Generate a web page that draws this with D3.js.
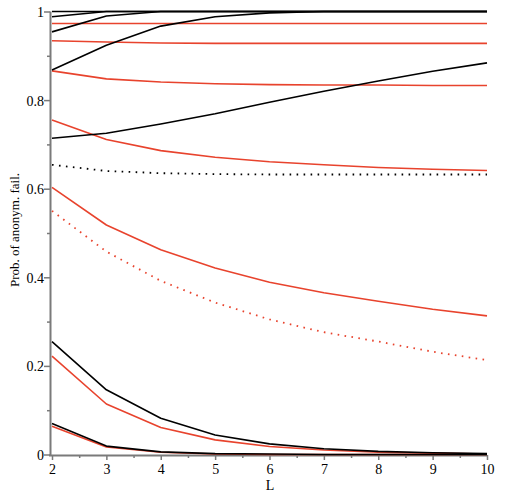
<!DOCTYPE html>
<html>
<head>
<meta charset="utf-8">
<script src="https://cdn.jsdelivr.net/npm/d3@7"></script>
<style>
  body { margin: 0; background: #fff; }
  svg { display: block; }
  text { font-family: "Liberation Serif", "DejaVu Serif", serif; fill: #000; }
</style>
</head>
<body>
<svg id="chart" width="505" height="497"></svg>
<script>
// ---- data ----
const Lvalues = [2, 3, 4, 5, 6, 7, 8, 9, 10];

const black1 = [1.000, 1.000, 1.000, 1.000, 1.000, 1.000, 1.000, 1.000, 1.000];
const black2 = [0.988, 1.000, 1.000, 1.000, 1.000, 1.000, 1.000, 1.000, 1.000];
const black3 = [0.954, 0.990, 1.000, 1.000, 1.000, 1.000, 1.000, 1.000, 1.000];
const black4 = [0.868, 0.924, 0.967, 0.988, 0.997, 1.000, 1.000, 1.000, 1.000];
const black5 = [0.714, 0.725, 0.746, 0.769, 0.795, 0.820, 0.843, 0.865, 0.884];
const black6 = [0.255, 0.146, 0.082, 0.044, 0.024, 0.013, 0.007, 0.004, 0.002];
const black7 = [0.070, 0.019, 0.006, 0.002, 0.001, 0.000, 0.000, 0.000, 0.000];
const blackDotted = [0.654, 0.640, 0.635, 0.633, 0.632, 0.632, 0.632, 0.632, 0.632];

const red1 = [0.973, 0.973, 0.973, 0.973, 0.973, 0.973, 0.973, 0.973, 0.973];
const red2 = [0.934, 0.931, 0.929, 0.928, 0.928, 0.928, 0.928, 0.928, 0.928];
const red3 = [0.866, 0.848, 0.841, 0.837, 0.835, 0.834, 0.834, 0.833, 0.833];
const red4 = [0.755, 0.711, 0.686, 0.671, 0.661, 0.654, 0.648, 0.644, 0.641];
const red5 = [0.603, 0.518, 0.462, 0.421, 0.389, 0.365, 0.346, 0.328, 0.313];
const red6 = [0.222, 0.114, 0.061, 0.033, 0.018, 0.010, 0.005, 0.003, 0.001];
const red7 = [0.064, 0.017, 0.005, 0.001, 0.000, 0.000, 0.000, 0.000, 0.000];
const redDotted = [0.550, 0.458, 0.392, 0.343, 0.305, 0.276, 0.255, 0.232, 0.213];

const xMajorTicks = [2, 3, 4, 5, 6, 7, 8, 9, 10];
const xMinorTicks = [2.5, 3.5, 4.5, 5.5, 6.5, 7.5, 8.5, 9.5];
const yMajorTicks = [0, 0.2, 0.4, 0.6, 0.8, 1];
const yTickLabels = ["0", "0.2", "0.4", "0.6", "0.8", "1"];
const yMinorTicks = [0.1, 0.3, 0.5, 0.7, 0.9];

const xLabel = "L";
const yLabel = "Prob. of anonym. fail.";

// ---- scales ----
const svg = d3.select("#chart");
const x = d3.scaleLinear().domain([2, 10]).range([52, 487]);
const y = d3.scaleLinear().domain([0, 1]).range([454.5, 11.5]);

const RED = "#e8432d";
const AXIS = "#7a7a7a";

const series = [
  { v: red1, c: RED, d: null },
  { v: red2, c: RED, d: null },
  { v: red3, c: RED, d: null },
  { v: red4, c: RED, d: null },
  { v: red5, c: RED, d: null },
  { v: red6, c: RED, d: null },
  { v: red7, c: RED, d: null },
  { v: redDotted, c: RED, d: "1.6,5.4" },
  { v: blackDotted, c: "#000", d: "1.6,5.4" },
  { v: black1, c: "#000", d: null },
  { v: black2, c: "#000", d: null },
  { v: black3, c: "#000", d: null },
  { v: black4, c: "#000", d: null },
  { v: black5, c: "#000", d: null },
  { v: black6, c: "#000", d: null },
  { v: black7, c: "#000", d: null },
];

const line = d3.line().x((d, i) => x(Lvalues[i])).y(d => y(d));

// ---- axes ----
const yAxisG = svg.append("g").attr("transform", "translate(50,0)")
  .call(d3.axisLeft(y).tickValues(yMajorTicks).tickSize(6).tickSizeOuter(0)
        .tickFormat((d, i) => yTickLabels[i]));
svg.append("g").attr("transform", "translate(50,0)")
  .call(d3.axisLeft(y).tickValues(yMinorTicks).tickSize(3).tickSizeOuter(0).tickFormat(""))
  .select(".domain").remove();

const xAxisG = svg.append("g").attr("transform", "translate(0,455)")
  .call(d3.axisBottom(x).tickValues(xMajorTicks).tickSize(5).tickSizeOuter(0)
        .tickFormat(d3.format("d")));
svg.append("g").attr("transform", "translate(0,455)")
  .call(d3.axisBottom(x).tickValues(xMinorTicks).tickSize(3).tickSizeOuter(0).tickFormat(""))
  .select(".domain").remove();

svg.selectAll(".domain").attr("stroke", AXIS).attr("stroke-width", 2);
svg.selectAll(".tick line").attr("stroke", AXIS).attr("stroke-width", 1.5);
svg.selectAll(".tick text").attr("font-family", "Liberation Serif").attr("font-size", 14).attr("fill", "#000");
yAxisG.selectAll(".tick text").attr("x", -6).attr("dy", "0.35em");
xAxisG.selectAll(".tick text").attr("y", 9);
xAxisG.select(".domain").attr("d", `M49,0.5H${x(10)}`);
yAxisG.select(".domain").attr("d", `M0.5,${y(1)}V456`);

// ---- lines ----
svg.append("g").selectAll("path").data(series).join("path")
  .attr("d", s => line(s.v))
  .attr("fill", "none")
  .attr("stroke", s => s.c)
  .attr("stroke-width", s => s.d ? 1.8 : 1.6)
  .attr("stroke-dasharray", s => s.d)
  .attr("stroke-linejoin", "round");

// ---- labels ----
svg.append("text").attr("x", 270).attr("y", 490).attr("text-anchor", "middle")
  .attr("font-size", 14).text(xLabel);
svg.append("text").attr("transform", "translate(19,230) rotate(-90)")
  .attr("text-anchor", "middle").attr("font-size", 13).text(yLabel);
</script>
</body>
</html>
